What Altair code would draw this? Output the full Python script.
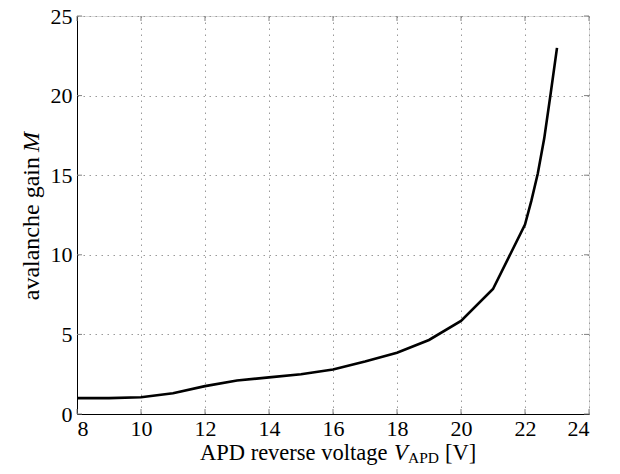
import altair as alt
import pandas as pd

# data
voltage = [8, 9, 10, 11, 12, 13, 14, 15, 16, 17, 18, 19, 20, 21, 22, 22.2, 22.4, 22.6, 22.8, 23]
gain = [1.0, 1.0, 1.05, 1.3, 1.75, 2.1, 2.3, 2.5, 2.8, 3.3, 3.85, 4.65, 5.85, 7.85, 11.9, 13.4, 15.1, 17.3, 20.1, 23.0]

x_ticks = [8, 10, 12, 14, 16, 18, 20, 22, 24]
y_ticks = [0, 5, 10, 15, 20, 25]

W, H = 512, 398
TOP = 8
FONT = "Liberation Serif, Times New Roman, serif"

df = pd.DataFrame({"V": voltage, "M": gain})
xt = pd.DataFrame({"V": x_ticks})
yt = pd.DataFrame({"M": y_ticks})

xscale = alt.Scale(domain=[8, 24], nice=False, zero=False)
yscale = alt.Scale(domain=[0, 25], nice=False)

xaxis = alt.Axis(values=x_ticks, title=None, grid=True, gridDash=[1.5, 4.5], gridColor="#9a9a9a",
                 gridWidth=1, tickSize=0, labelPadding=4, labelFont=FONT, labelFontSize=22,
                 labelColor="black", domainColor="black", domainWidth=1)
yaxis = alt.Axis(values=y_ticks, title=None, grid=True, gridDash=[1.5, 4.5], gridColor="#9a9a9a",
                 gridWidth=1, tickSize=0, labelPadding=5, labelFont=FONT, labelFontSize=22,
                 labelColor="black", domainColor="black", domainWidth=1)

line = alt.Chart(df).mark_line(color="black", strokeWidth=2.6).encode(
    x=alt.X("V:Q", scale=xscale, axis=xaxis),
    y=alt.Y("M:Q", scale=yscale, axis=yaxis),
)

tick_style = dict(color="#808080", strokeWidth=1)
bottom_ticks = alt.Chart(xt).mark_rule(**tick_style).encode(
    x=alt.X("V:Q", scale=xscale), y=alt.value(H), y2=alt.value(H - 5))
top_ticks = alt.Chart(xt).mark_rule(**tick_style).encode(
    x=alt.X("V:Q", scale=xscale), y=alt.value(0), y2=alt.value(5))
left_ticks = alt.Chart(yt).mark_rule(**tick_style).encode(
    y=alt.Y("M:Q", scale=yscale), x=alt.value(0), x2=alt.value(5))
right_ticks = alt.Chart(yt).mark_rule(**tick_style).encode(
    y=alt.Y("M:Q", scale=yscale), x=alt.value(W), x2=alt.value(W - 5))

one = pd.DataFrame({"d": [0]})


def label(text, x, y, size=22.5, style="normal", align="left", angle=0):
    return alt.Chart(one).mark_text(
        text=text, font=FONT, fontSize=size, fontStyle=style, align=align,
        baseline="alphabetic", angle=angle, color="black"
    ).encode(x=alt.value(x), y=alt.value(y))


# page coordinates minus plot origin (77, 16)
xt1 = label("APD reverse voltage", 123, 444)
xt2 = label("V", 317, 444, style="italic")
xt3 = label("APD", 331, 447, size=15.5)
xt4 = label("[V]", 368, 444)

yt1 = label("avalanche gain", -38, 141, size=24, align="right", angle=270)
yt2 = label("M", -38, 136, size=24, style="italic", align="left", angle=270)

chart = alt.layer(
    line, bottom_ticks, top_ticks, left_ticks, right_ticks,
    xt1, xt2, xt3, xt4, yt1, yt2
).properties(
    width=W, height=H,
    autosize=alt.AutoSizeParams(type="none"),
    padding={"left": 69, "top": TOP, "right": 23, "bottom": 52},
).configure_view(
    stroke="black", strokeWidth=1
).configure(background="white")

chart.save("out.html", embed_options={"renderer": "svg", "actions": False})
